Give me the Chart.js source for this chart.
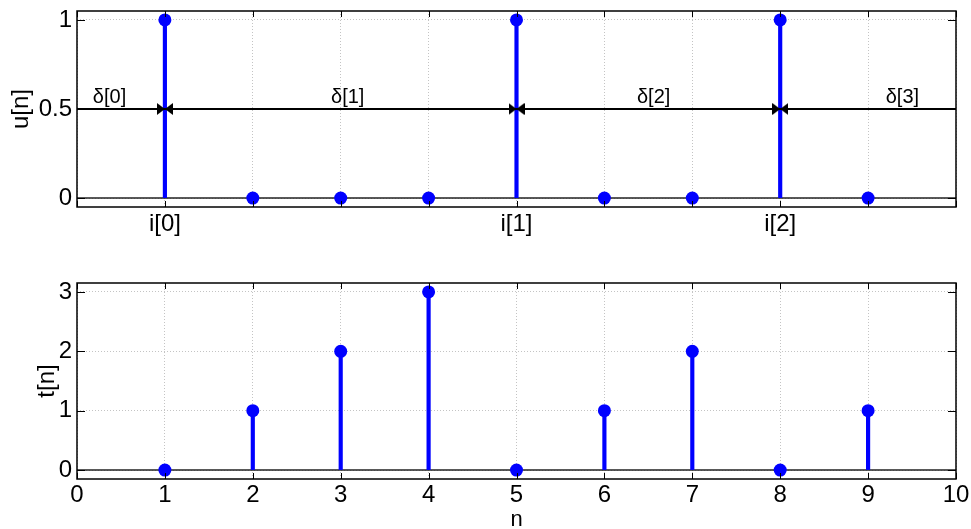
<!DOCTYPE html>
<html>
<head>
<meta charset="utf-8">
<script src="https://cdn.jsdelivr.net/npm/chart.js@4.4.1/dist/chart.umd.min.js"></script>
<style>
body { margin: 0; background: #fff; }
canvas { position: absolute; left: 0; }
#top { top: 0; }
#bottom { top: 258px; }
</style>
</head>
<body>
<canvas id="top" width="971" height="250"></canvas>
<canvas id="bottom" width="971" height="271"></canvas>
<script>
// data
const n = [1, 2, 3, 4, 5, 6, 7, 8, 9];
const u = [1, 0, 0, 0, 1, 0, 0, 1, 0];
const t = [0, 1, 2, 3, 0, 1, 2, 0, 1];
const xTicks = [0, 1, 2, 3, 4, 5, 6, 7, 8, 9, 10];
const uTicks = [0, 0.5, 1];
const tTicks = [0, 1, 2, 3];
const boundaries = [1, 5, 8];
const boundaryLabels = ["i[0]", "i[1]", "i[2]"];
const deltaLevel = 0.5;
const deltaLabels = ["δ[0]", "δ[1]", "δ[2]", "δ[3]"];
const deltaLabelX = [0.37, 3.08, 6.56, 9.39];

const FONT = "'Liberation Sans', Arial, sans-serif";
const BLUE = "#0000ff";

// little "bowtie" marker used on the delta line
function bowtie() {
	const c = document.createElement("canvas");
	c.width = 16;
	c.height = 12;
	const g = c.getContext("2d");
	g.fillStyle = "#000";
	g.beginPath(); g.moveTo(0, 0); g.lineTo(8, 6); g.lineTo(0, 12); g.closePath(); g.fill();
	g.beginPath(); g.moveTo(16, 0); g.lineTo(8, 6); g.lineTo(16, 12); g.closePath(); g.fill();
	return c;
}

// box round the axes + inward tick marks (matlab style)
const boxPlugin = {
	id: "box",
	afterDraw(chart) {
		const { ctx, chartArea: a, scales } = chart;
		const x = scales.x, y = scales.y;
		ctx.save();
		ctx.strokeStyle = "#000";
		ctx.lineWidth = 1;
		ctx.beginPath();
		x.ticks.forEach((tk) => {
			const px = Math.round(x.getPixelForValue(tk.value)) + 0.5;
			ctx.moveTo(px, a.bottom); ctx.lineTo(px, a.bottom - 6);
			ctx.moveTo(px, a.top); ctx.lineTo(px, a.top + 6);
		});
		y.ticks.forEach((tk) => {
			const py = Math.round(y.getPixelForValue(tk.value)) + 0.5;
			ctx.moveTo(a.left, py); ctx.lineTo(a.left + 8, py);
			ctx.moveTo(a.right, py); ctx.lineTo(a.right - 8, py);
		});
		ctx.stroke();
		ctx.lineWidth = 1.5;
		ctx.strokeRect(a.left, a.top, a.right - a.left, a.bottom - a.top);
		ctx.restore();
	},
};

// delta labels above the line
const deltaPlugin = {
	id: "deltas",
	afterDatasetsDraw(chart) {
		const { ctx, scales } = chart;
		ctx.save();
		ctx.font = "20px " + FONT;
		ctx.fillStyle = "#000";
		ctx.textAlign = "center";
		ctx.textBaseline = "bottom";
		deltaLabels.forEach((lab, k) => {
			ctx.fillText(lab, scales.x.getPixelForValue(deltaLabelX[k]), scales.y.getPixelForValue(deltaLevel) - 2);
		});
		ctx.restore();
	},
};

function makeChart(id, values, yTicks, yMin, yMax, yTitle, xLabel, extra, opts) {
	const datasets = [
		{
			type: "line",
			data: [{ x: xTicks[0], y: 0 }, { x: xTicks[xTicks.length - 1], y: 0 }],
			borderColor: "#222",
			borderWidth: 1.5,
			pointRadius: 0,
			order: 5,
		},
		{
			type: "bar",
			data: n.map((v, i) => ({ x: v, y: values[i] })),
			backgroundColor: BLUE,
			barThickness: 3.5,
			order: 4,
		},
		{
			type: "line",
			data: n.map((v, i) => ({ x: v, y: values[i] })),
			showLine: false,
			pointRadius: 6.5,
			pointBackgroundColor: BLUE,
			pointBorderWidth: 0,
			order: 3,
		},
	].concat(extra);

	return new Chart(document.getElementById(id), {
		type: "bar",
		data: { datasets: datasets },
		options: {
			responsive: false,
			animation: false,
			layout: { padding: opts.padding },
			plugins: { legend: { display: false }, tooltip: { enabled: false } },
			scales: {
				x: {
					type: "linear",
					offset: false,
					min: xTicks[0],
					max: xTicks[xTicks.length - 1],
					afterBuildTicks: (s) => { s.ticks = xTicks.map((v) => ({ value: v })); },
					afterFit: (s) => { s.height = opts.xHeight; s.paddingLeft = 0; s.paddingRight = 0; },
					grid: { color: "#c4c4c4", drawTicks: false, offset: false },
					border: { display: false, dash: [1, 2] },
					ticks: {
						padding: opts.xTickPad,
						maxRotation: 0,
						autoSkip: false,
						color: "#000",
						font: { family: FONT, size: 24 },
						callback: xLabel,
					},
					title: {
						display: !!opts.xTitle,
						text: opts.xTitle || "",
						color: "#000",
						font: { family: FONT, size: 22 },
						padding: { top: 0, bottom: -4 },
					},
				},
				y: {
					min: yMin,
					max: yMax,
					afterBuildTicks: (s) => { s.ticks = yTicks.map((v) => ({ value: v })); },
					afterFit: (s) => { s.width = 77; s.paddingTop = 0; s.paddingBottom = 0; },
					grid: { color: "#c4c4c4", drawTicks: false },
					border: { display: false, dash: [1, 2] },
					ticks: {
						padding: 5,
						color: "#000",
						font: { family: FONT, size: 24 },
						callback: (v) => String(v),
					},
					title: {
						display: true,
						text: yTitle,
						color: "#000",
						font: { family: FONT, size: 24 },
						padding: { top: opts.yTitlePad, bottom: 0 },
					},
				},
			},
		},
		plugins: [boxPlugin].concat(opts.plugins || []),
	});
}

// top: u[n] with the delta line
makeChart(
	"top", u, uTicks, -0.05, 1.05, "u[n]",
	(v) => { const k = boundaries.indexOf(v); return k >= 0 ? boundaryLabels[k] : ""; },
	[
		{
			type: "line",
			data: [{ x: xTicks[0], y: deltaLevel }, { x: xTicks[xTicks.length - 1], y: deltaLevel }],
			borderColor: "#000",
			borderWidth: 2,
			pointRadius: 0,
			order: 2,
		},
		{
			type: "line",
			data: boundaries.map((b) => ({ x: b, y: deltaLevel })),
			showLine: false,
			pointStyle: bowtie(),
			order: 1,
		},
	],
	{ padding: { top: 11, right: 15, left: 0, bottom: 0 }, xHeight: 43, xTickPad: 3, yTitlePad: 7, plugins: [deltaPlugin] }
);

// bottom: t[n]
makeChart(
	"bottom", t, tTicks, -0.15, 3.15, "t[n]",
	(v) => String(v),
	[],
	{ padding: { top: 25, right: 15, left: 0, bottom: 0 }, xHeight: 50, xTickPad: 2, yTitlePad: 33, xTitle: "n" }
);
</script>
</body>
</html>
